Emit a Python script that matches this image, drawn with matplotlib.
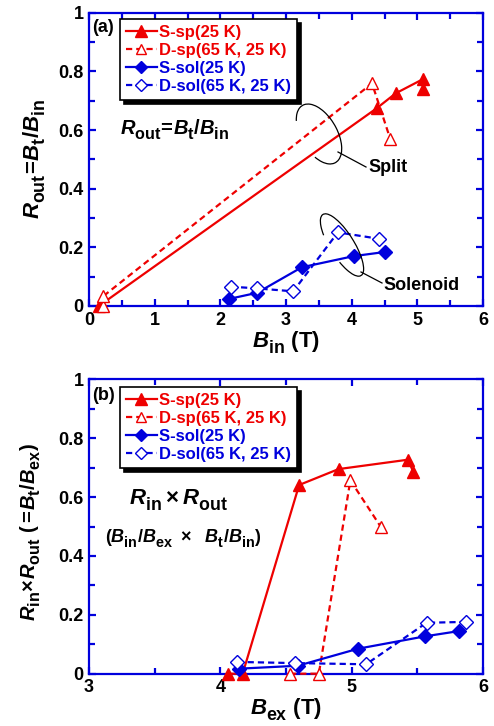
import matplotlib
matplotlib.use("Agg")
import matplotlib.pyplot as plt
from matplotlib.patches import Arc
from matplotlib.lines import Line2D
from matplotlib.transforms import Affine2D
from matplotlib.ticker import MultipleLocator, FuncFormatter

try:
    import matplotlib._mathtext as _mt
    _mt.SHRINK_FACTOR = 0.8
    _mt.FontConstantsBase.sub1 = 0.5
    _mt.FontConstantsBase.sub2 = 0.6
except Exception:
    pass

# ---------------- data ----------------
# panel (a): R_out vs B_in
a_ssp_x = [0.15, 4.38, 4.67, 5.09, 5.09]
a_ssp_y = [0.0, 0.674, 0.725, 0.774, 0.739]
a_dsp_x = [0.22, 0.22, 4.31, 4.59]
a_dsp_y = [0.0, 0.034, 0.759, 0.568]
a_ssol_x = [2.13, 2.56, 3.24, 4.03, 4.50]
a_ssol_y = [0.024, 0.045, 0.132, 0.170, 0.184]
a_dsol_x = [2.16, 2.56, 3.11, 3.79, 4.42]
a_dsol_y = [0.066, 0.060, 0.050, 0.251, 0.229]

# panel (b): R_in x R_out vs B_ex
b_ssp_x = [4.06, 4.17, 4.60, 4.90, 5.43, 5.47]
b_ssp_y = [0.0, 0.0, 0.641, 0.695, 0.727, 0.684]
b_dsp_x = [4.53, 4.75, 4.99, 5.22]
b_dsp_y = [0.0, 0.0, 0.657, 0.50]
b_ssol_x = [4.14, 4.59, 5.05, 5.56, 5.82]
b_ssol_y = [0.017, 0.027, 0.085, 0.127, 0.145]
b_dsol_x = [4.13, 4.57, 5.11, 5.57, 5.87]
b_dsol_y = [0.040, 0.036, 0.032, 0.173, 0.176]

labels = ["S-sp(25 K)", "D-sp(65 K, 25 K)", "S-sol(25 K)", "D-sol(65 K, 25 K)"]

# ---------------- style ----------------
RED = "#ee0000"
BLUE = "#0000dd"
plt.rcParams["font.family"] = ["Liberation Sans", "DejaVu Sans"]
plt.rcParams["font.weight"] = "bold"
plt.rcParams["mathtext.fontset"] = "custom"
plt.rcParams["mathtext.rm"] = "Liberation Sans:bold"
plt.rcParams["mathtext.it"] = "Liberation Sans:italic:bold"
plt.rcParams["mathtext.bf"] = "Liberation Sans:bold"
plt.rcParams["mathtext.sf"] = "Liberation Sans:bold"

W, H = 494, 726
fig = plt.figure(figsize=(W / 100, H / 100), dpi=100)
PX = Affine2D().scale(1 / W, -1 / H).translate(0, 1) + fig.transFigure

ax1 = fig.add_axes([89 / W, 1 - 306 / H, 394 / W, 293.3 / H])
ax2 = fig.add_axes([89 / W, 1 - 673.7 / H, 394 / W, 294.4 / H])

dash = (0, (2.8, 1.8))


def series(ax, xs, ys, color, ls, marker, filled, ms):
    ax.plot(xs, ys, color=color, linestyle=ls, linewidth=1.6,
            marker=marker, markersize=ms,
            markerfacecolor=color if filled else "white",
            markeredgecolor=color, markeredgewidth=1.0,
            clip_on=False, zorder=3)


def style_axes(ax, xlim, ylim):
    ax.set_xlim(*xlim)
    ax.set_ylim(*ylim)
    for s in ax.spines.values():
        s.set_color(BLUE)
        s.set_linewidth(1.6)
    ax.xaxis.set_major_locator(MultipleLocator(1))
    ax.xaxis.set_minor_locator(MultipleLocator(0.5))
    ax.yaxis.set_major_locator(MultipleLocator(0.2))
    ax.yaxis.set_minor_locator(MultipleLocator(0.1))
    ax.tick_params(which="both", direction="in", top=True, right=True,
                   color=BLUE, width=1.6, labelsize=13, pad=4)
    ax.tick_params(which="major", length=5)
    ax.tick_params(which="minor", length=4.5)
    fmt = FuncFormatter(lambda v, p: "%g" % round(v, 3))
    ax.xaxis.set_major_formatter(fmt)
    ax.yaxis.set_major_formatter(fmt)
    for t in ax.get_xticklabels() + ax.get_yticklabels():
        t.set_fontweight("bold")


def legend(ax, top_px):
    handles = [
        Line2D([], [], color=RED, lw=1.6, marker="^", ms=8, mfc=RED, mec=RED),
        Line2D([], [], color=RED, lw=1.6, ls=dash, marker="^", ms=7, mfc="white", mec=RED),
        Line2D([], [], color=BLUE, lw=1.6, marker="D", ms=6.5, mfc=BLUE, mec=BLUE),
        Line2D([], [], color=BLUE, lw=1.6, ls=dash, marker="D", ms=6, mfc="white", mec=BLUE),
    ]
    leg = ax.legend(handles, labels, loc="upper left",
                    bbox_to_anchor=(120 / W, 1 - top_px / H),
                    bbox_transform=fig.transFigure, borderaxespad=0,
                    fontsize=12, handlelength=1.85, handletextpad=0.15,
                    labelspacing=0.18, borderpad=0.35, fancybox=False,
                    framealpha=1, edgecolor="black",
                    shadow={"color": "black", "alpha": 1, "ox": 3, "oy": -3})
    leg.get_frame().set_linewidth(1.2)
    for t, c in zip(leg.get_texts(), [RED, RED, BLUE, BLUE]):
        t.set_color(c)
        t.set_fontweight("bold")
    leg.set_zorder(5)
    return leg


# ---------------- panel (a) ----------------
series(ax1, a_ssp_x, a_ssp_y, RED, "-", "^", True, 9)
series(ax1, a_dsp_x, a_dsp_y, RED, dash, "^", False, 8.5)
series(ax1, a_ssol_x, a_ssol_y, BLUE, "-", "D", True, 7.5)
series(ax1, a_dsol_x, a_dsol_y, BLUE, dash, "D", False, 7)
style_axes(ax1, (0, 6), (0, 1))
ax1.set_xlabel(r"$B_{\rm in}$ (T)", fontsize=16, fontweight="bold", labelpad=0)
ax1.set_ylabel(r"$R_{\rm out}\!=\!B_{\rm t}/B_{\rm in}$", fontsize=16, labelpad=8)
legend(ax1, 19)
fig.text(92 / W, 1 - 28 / H, "(a)", fontsize=13, fontweight="bold", va="center")
fig.text(120 / W, 1 - 130 / H, r"$R_{\rm out}\!=\!B_{\rm t}/B_{\rm in}$",
         fontsize=14.5, va="center")

# annotations (a)
fig.add_artist(Arc((319, 134), 66, 36, angle=60, theta1=150, theta2=400,
                   transform=PX, color="black", lw=0.9))
fig.add_artist(Line2D([338, 366], [152, 167], transform=PX, color="black", lw=0.9))
fig.text(368 / W, 1 - 167 / H, "Split", fontsize=13, fontweight="bold", va="center")
fig.add_artist(Arc((342, 245), 72, 24, angle=58, theta1=150, theta2=400,
                   transform=PX, color="black", lw=0.9))
fig.add_artist(Line2D([361, 382], [272, 283], transform=PX, color="black", lw=0.9))
fig.text(383 / W, 1 - 285 / H, "Solenoid", fontsize=13, fontweight="bold", va="center")

# ---------------- panel (b) ----------------
series(ax2, b_ssp_x, b_ssp_y, RED, "-", "^", True, 9)
series(ax2, b_dsp_x, b_dsp_y, RED, dash, "^", False, 8.5)
series(ax2, b_ssol_x, b_ssol_y, BLUE, "-", "D", True, 7.5)
series(ax2, b_dsol_x, b_dsol_y, BLUE, dash, "D", False, 7)
style_axes(ax2, (3, 6), (0, 1))
ax2.set_xlabel(r"$B_{\rm ex}$ (T)", fontsize=16, fontweight="bold", labelpad=0)
ax2.set_ylabel(r"$R_{\rm in}\!\times\! R_{\rm out}\ (=\!B_{\rm t}/B_{\rm ex})$",
               fontsize=14.5, labelpad=8)
ax2.yaxis.set_label_coords(-0.117, 0.48)
legend(ax2, 387)
fig.text(92 / W, 1 - 395 / H, "(b)", fontsize=13, fontweight="bold", va="center")
fig.text(178 / W, 1 - 500 / H, r"$R_{\rm in}\times R_{\rm out}$",
         fontsize=16, va="center", ha="center")
fig.text(183 / W, 1 - 538 / H, r"$(B_{\rm in}/B_{\rm ex}\ \times\ \ B_{\rm t}/B_{\rm in})$",
         fontsize=13, va="center", ha="center")

fig.savefig("out.png", dpi=100)
